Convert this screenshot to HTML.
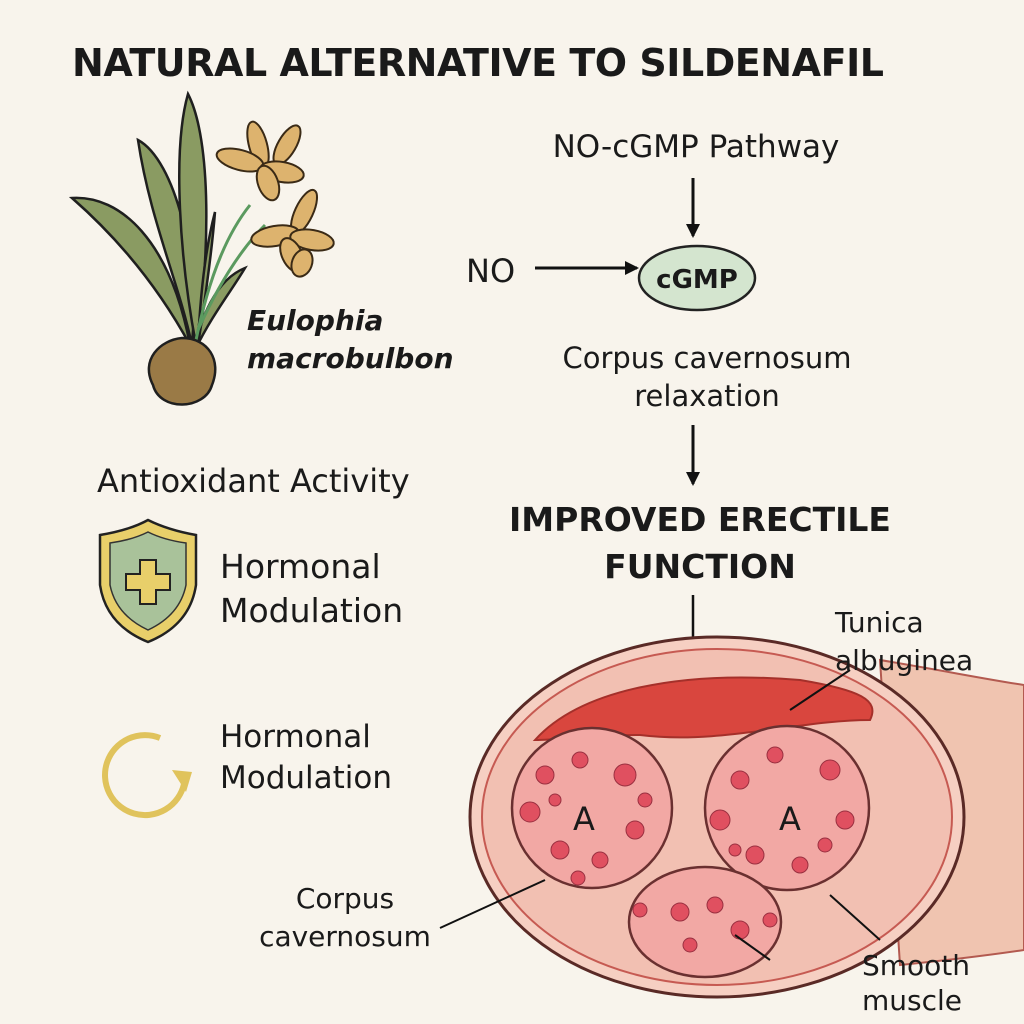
<!DOCTYPE html>
<html><head><style>
html,body{margin:0;padding:0;background:#f8f4ec;}
svg{display:block}
text{font-family:"DejaVu Sans","Liberation Sans",sans-serif;fill:#1a1a1a}
</style></head><body>
<svg width="1024" height="1024" viewBox="0 0 1024 1024" xmlns="http://www.w3.org/2000/svg">
<rect width="1024" height="1024" fill="#f8f4ec"/>
<defs>
<marker id="ah" markerWidth="14" markerHeight="14" refX="12" refY="7" orient="auto" markerUnits="userSpaceOnUse"><path d="M0,0 L14,7 L0,14 z" fill="#111"/></marker>
</defs>
<text x="478" y="76" font-size="38" font-weight="bold" text-anchor="middle" textLength="812">NATURAL ALTERNATIVE TO SILDENAFIL</text>

<!-- plant -->
<g stroke="#1f1f1f" stroke-width="2.5">
<path d="M72,198 C120,195 170,240 190,345 C160,290 120,240 72,198z" fill="#8a9b62"/>
<path d="M138,140 C175,160 200,260 192,345 C178,280 150,220 138,140z" fill="#8a9b62"/>
<path d="M188,94 C212,140 210,260 196,345 C180,260 172,150 188,94z" fill="#8a9b62"/>
<path d="M245,268 C215,280 200,320 195,350 C212,315 232,290 245,268z" fill="#8a9b62"/>
<path d="M215,212 C205,250 200,300 198,345 C205,300 212,250 215,212z" fill="#8a9b62"/>
</g>
<path d="M195,345 C210,270 230,230 250,205" fill="none" stroke="#5b9a5f" stroke-width="3"/>
<path d="M198,330 C225,270 250,240 265,225" fill="none" stroke="#5b9a5f" stroke-width="3"/>
<path d="M153,385 C140,360 160,340 182,338 C208,338 222,360 212,385 C205,410 160,412 153,385z" fill="#9a7a46" stroke="#1f1f1f" stroke-width="2.5"/>
<g fill="#ddb36e" stroke="#3a2a16" stroke-width="2">
<ellipse cx="258" cy="145" rx="9" ry="24" transform="rotate(-15 258 145)"/>
<ellipse cx="240" cy="160" rx="24" ry="10" transform="rotate(15 240 160)"/>
<ellipse cx="287" cy="145" rx="9" ry="22" transform="rotate(30 287 145)"/>
<ellipse cx="282" cy="172" rx="22" ry="10" transform="rotate(10 282 172)"/>
<ellipse cx="268" cy="183" rx="10" ry="18" transform="rotate(-20 268 183)"/>
<ellipse cx="304" cy="212" rx="9" ry="24" transform="rotate(25 304 212)"/>
<ellipse cx="275" cy="236" rx="24" ry="10" transform="rotate(-10 275 236)"/>
<ellipse cx="312" cy="240" rx="22" ry="10" transform="rotate(10 312 240)"/>
<ellipse cx="292" cy="255" rx="10" ry="18" transform="rotate(-25 292 255)"/>
<ellipse cx="302" cy="263" rx="10" ry="14" transform="rotate(20 302 263)"/>
</g>
<text x="247" y="330" font-size="28" font-style="italic" font-weight="bold">Eulophia</text>
<text x="247" y="368" font-size="28" font-style="italic" font-weight="bold">macrobulbon</text>

<!-- pathway -->
<text x="696" y="157" font-size="31" text-anchor="middle">NO-cGMP Pathway</text>
<line x1="693" y1="178" x2="693" y2="236" stroke="#111" stroke-width="3" marker-end="url(#ah)"/>
<text x="466" y="282" font-size="32">NO</text>
<line x1="535" y1="268" x2="637" y2="268" stroke="#111" stroke-width="3" marker-end="url(#ah)"/>
<ellipse cx="697" cy="278" rx="58" ry="32" fill="#d4e5cf" stroke="#222" stroke-width="2.5"/>
<text x="697" y="288" font-size="26" font-weight="bold" text-anchor="middle">cGMP</text>
<text x="707" y="368" font-size="29" text-anchor="middle">Corpus cavernosum</text>
<text x="707" y="406" font-size="29" text-anchor="middle">relaxation</text>
<line x1="693" y1="425" x2="693" y2="484" stroke="#111" stroke-width="3" marker-end="url(#ah)"/>
<text x="700" y="531" font-size="33" font-weight="bold" text-anchor="middle">IMPROVED ERECTILE</text>
<text x="700" y="578" font-size="33" font-weight="bold" text-anchor="middle">FUNCTION</text>
<line x1="693" y1="595" x2="693" y2="650" stroke="#111" stroke-width="2.5"/>

<!-- left items -->
<text x="97" y="492" font-size="32">Antioxidant Activity</text>
<path d="M100,535 Q130,530 148,520 Q168,530 196,535 L196,585 Q190,625 148,642 Q106,625 100,585z" fill="#e8cf6a" stroke="#222" stroke-width="2.5"/>
<path d="M110,543 Q132,540 148,532 Q164,540 186,543 L186,585 Q180,615 148,630 Q116,615 110,585z" fill="#a9c29a" stroke="#333" stroke-width="1.5"/>
<path d="M140,560 h16 v14 h14 v16 h-14 v14 h-16 v-14 h-14 v-16 h14z" fill="#e8cf6a" stroke="#222" stroke-width="2"/>
<text x="220" y="578" font-size="33">Hormonal</text>
<text x="220" y="622" font-size="33">Modulation</text>
<path d="M160,738 A40,40 0 1 0 184,784" fill="none" stroke="#e0c35c" stroke-width="6"/>
<path d="M172,770 L192,772 L186,792z" fill="#e0c35c"/>
<text x="220" y="747" font-size="31">Hormonal</text>
<text x="220" y="788" font-size="31">Modulation</text>

<!-- cross-section -->
<path d="M880,660 C940,670 990,680 1024,685 L1024,950 C990,955 950,960 900,965z" fill="#f0c4b0" stroke="#b35a50" stroke-width="2"/>
<ellipse cx="717" cy="817" rx="247" ry="180" fill="#f6cfc2" stroke="#5a2a26" stroke-width="3"/>
<ellipse cx="717" cy="817" rx="235" ry="168" fill="#f2c0b2" stroke="#c65a52" stroke-width="2"/>
<path d="M535,740 C580,690 680,670 800,680 C860,690 880,700 870,720 C800,720 720,745 640,735 C590,735 560,740 535,740z" fill="#d9463e" stroke="#a5302a" stroke-width="2"/>
<circle cx="592" cy="808" r="80" fill="#f2a8a4" stroke="#6a3030" stroke-width="2.5"/>
<circle cx="787" cy="808" r="82" fill="#f2a8a4" stroke="#6a3030" stroke-width="2.5"/>
<ellipse cx="705" cy="922" rx="76" ry="55" fill="#f2a8a4" stroke="#6a3030" stroke-width="2.5"/>
<g fill="#e05060" stroke="#9a3040" stroke-width="1">
<circle cx="545" cy="775" r="9"/><circle cx="580" cy="760" r="8"/><circle cx="625" cy="775" r="11"/><circle cx="530" cy="812" r="10"/><circle cx="635" cy="830" r="9"/><circle cx="560" cy="850" r="9"/><circle cx="600" cy="860" r="8"/><circle cx="645" cy="800" r="7"/><circle cx="555" cy="800" r="6"/><circle cx="578" cy="878" r="7"/>
<circle cx="740" cy="780" r="9"/><circle cx="775" cy="755" r="8"/><circle cx="830" cy="770" r="10"/><circle cx="720" cy="820" r="10"/><circle cx="845" cy="820" r="9"/><circle cx="755" cy="855" r="9"/><circle cx="800" cy="865" r="8"/><circle cx="825" cy="845" r="7"/><circle cx="735" cy="850" r="6"/>
<circle cx="680" cy="912" r="9"/><circle cx="715" cy="905" r="8"/><circle cx="740" cy="930" r="9"/><circle cx="690" cy="945" r="7"/>
<circle cx="640" cy="910" r="7"/><circle cx="770" cy="920" r="7"/>
</g>
<text x="584" y="830" font-size="32" text-anchor="middle">A</text>
<text x="790" y="830" font-size="32" text-anchor="middle">A</text>
<line x1="790" y1="710" x2="850" y2="670" stroke="#111" stroke-width="2"/>
<text x="835" y="632" font-size="28">Tunica</text>
<text x="835" y="670" font-size="28">albuginea</text>
<line x1="440" y1="928" x2="545" y2="880" stroke="#111" stroke-width="2"/>
<text x="345" y="908" font-size="28" text-anchor="middle">Corpus</text>
<text x="345" y="946" font-size="28" text-anchor="middle">cavernosum</text>
<line x1="830" y1="895" x2="880" y2="940" stroke="#111" stroke-width="2"/>
<line x1="735" y1="935" x2="770" y2="960" stroke="#111" stroke-width="2"/>
<text x="862" y="975" font-size="28">Smooth</text>
<text x="862" y="1010" font-size="28">muscle</text>
</svg>
</body></html>
